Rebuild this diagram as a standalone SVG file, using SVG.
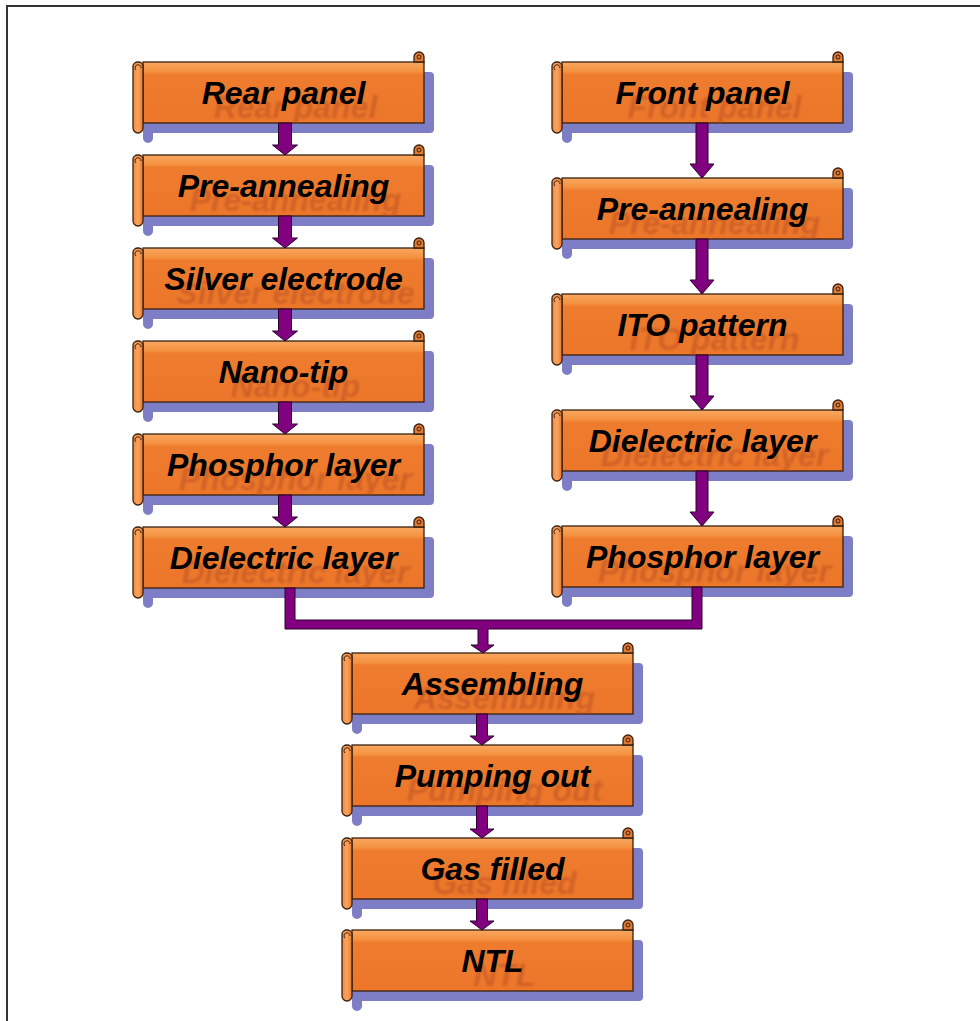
<svg xmlns="http://www.w3.org/2000/svg" xmlns:xlink="http://www.w3.org/1999/xlink" width="980" height="1021" viewBox="0 0 980 1021">
<defs>
<style>
.lbl{font-family:"Liberation Sans",Arial,sans-serif;font-weight:bold;font-style:italic;font-size:32px;text-anchor:middle;fill:#000}
.ghost{font-family:"Liberation Sans",Arial,sans-serif;font-weight:bold;font-style:italic;font-size:32px;text-anchor:middle;fill:#B04A22;opacity:0.45}
.conn{fill:#800080;stroke:#2a002a;stroke-width:1}
.shadow{fill:#7E7EC6}
.edge{stroke:#3a200e;stroke-width:1.3}
</style>
<linearGradient id="bodyGrad" x1="0" y1="0" x2="0" y2="1">
<stop offset="0" stop-color="#F9A862"/>
<stop offset="0.16" stop-color="#F4913F"/>
<stop offset="0.2" stop-color="#EE7C2E"/>
<stop offset="1" stop-color="#EC762A"/>
</linearGradient>
<linearGradient id="rollGrad" x1="0" y1="0" x2="1" y2="0">
<stop offset="0" stop-color="#F28A3C"/>
<stop offset="0.5" stop-color="#F8A460"/>
<stop offset="1" stop-color="#E9782E"/>
</linearGradient>
<clipPath id="bodyClip" clipPathUnits="userSpaceOnUse"><rect x="0" y="0" width="281" height="61"/></clipPath>
<filter id="soft" x="-5%" y="-20%" width="110%" height="140%"><feGaussianBlur stdDeviation="0.8"/></filter>
<g id="scroll">
<path class="shadow" d="M2,10 H287 a4,4 0 0 1 4,4 V67 a4,4 0 0 1 -4,4 H10 V76 a5,5 0 0 1 -10,0 V12 Z"/>
<rect x="0" y="0" width="281" height="61" fill="url(#bodyGrad)" class="edge"/>
<path d="M271,0 V-5 a5,5 0 0 1 10,0 V0 Z" fill="#E27A34" class="edge"/>
<circle cx="276" cy="-5" r="2" fill="none" stroke="#3a200e" stroke-width="1"/>
<path d="M-10,4 a5,4 0 0 1 10,0 V66 a5,5 0 0 1 -10,0 Z" fill="url(#rollGrad)" class="edge"/>
<path d="M-7,8 a3,3 0 1 1 5,-2" fill="none" stroke="#3a200e" stroke-width="1"/>
</g>
</defs>
<rect x="0" y="0" width="980" height="1021" fill="#fff"/>
<path d="M7,1021 V6 H980" fill="none" stroke="#333" stroke-width="2"/>

<g id="nodes">
<g id="rear-panel" transform="translate(143,62)"><use xlink:href="#scroll"/><text class="ghost" x="152.5" y="55.5" clip-path="url(#bodyClip)" filter="url(#soft)">Rear panel</text><text class="lbl" x="140.5" y="41.5">Rear panel</text></g>
<g id="rear-preannealing" transform="translate(143,155)"><use xlink:href="#scroll"/><text class="ghost" x="152.5" y="55.5" clip-path="url(#bodyClip)" filter="url(#soft)">Pre-annealing</text><text class="lbl" x="140.5" y="41.5">Pre-annealing</text></g>
<g id="silver-electrode" transform="translate(143,248)"><use xlink:href="#scroll"/><text class="ghost" x="152.5" y="55.5" clip-path="url(#bodyClip)" filter="url(#soft)">Silver electrode</text><text class="lbl" x="140.5" y="41.5">Silver electrode</text></g>
<g id="nano-tip" transform="translate(143,341)"><use xlink:href="#scroll"/><text class="ghost" x="152.5" y="55.5" clip-path="url(#bodyClip)" filter="url(#soft)">Nano-tip</text><text class="lbl" x="140.5" y="41.5">Nano-tip</text></g>
<g id="rear-phosphor" transform="translate(143,434)"><use xlink:href="#scroll"/><text class="ghost" x="152.5" y="55.5" clip-path="url(#bodyClip)" filter="url(#soft)">Phosphor layer</text><text class="lbl" x="140.5" y="41.5">Phosphor layer</text></g>
<g id="rear-dielectric" transform="translate(143,527)"><use xlink:href="#scroll"/><text class="ghost" x="152.5" y="55.5" clip-path="url(#bodyClip)" filter="url(#soft)">Dielectric layer</text><text class="lbl" x="140.5" y="41.5">Dielectric layer</text></g>

<g id="front-panel" transform="translate(562,62)"><use xlink:href="#scroll"/><text class="ghost" x="152.5" y="55.5" clip-path="url(#bodyClip)" filter="url(#soft)">Front panel</text><text class="lbl" x="140.5" y="41.5">Front panel</text></g>
<g id="front-preannealing" transform="translate(562,178)"><use xlink:href="#scroll"/><text class="ghost" x="152.5" y="55.5" clip-path="url(#bodyClip)" filter="url(#soft)">Pre-annealing</text><text class="lbl" x="140.5" y="41.5">Pre-annealing</text></g>
<g id="ito-pattern" transform="translate(562,294)"><use xlink:href="#scroll"/><text class="ghost" x="152.5" y="55.5" clip-path="url(#bodyClip)" filter="url(#soft)">ITO pattern</text><text class="lbl" x="140.5" y="41.5">ITO pattern</text></g>
<g id="front-dielectric" transform="translate(562,410)"><use xlink:href="#scroll"/><text class="ghost" x="152.5" y="55.5" clip-path="url(#bodyClip)" filter="url(#soft)">Dielectric layer</text><text class="lbl" x="140.5" y="41.5">Dielectric layer</text></g>
<g id="front-phosphor" transform="translate(562,526)"><use xlink:href="#scroll"/><text class="ghost" x="152.5" y="55.5" clip-path="url(#bodyClip)" filter="url(#soft)">Phosphor layer</text><text class="lbl" x="140.5" y="41.5">Phosphor layer</text></g>

<g id="assembling" transform="translate(352,653)"><use xlink:href="#scroll"/><text class="ghost" x="152.5" y="55.5" clip-path="url(#bodyClip)" filter="url(#soft)">Assembling</text><text class="lbl" x="140.5" y="41.5">Assembling</text></g>
<g id="pumping-out" transform="translate(352,745)"><use xlink:href="#scroll"/><text class="ghost" x="152.5" y="55.5" clip-path="url(#bodyClip)" filter="url(#soft)">Pumping out</text><text class="lbl" x="140.5" y="41.5">Pumping out</text></g>
<g id="gas-filled" transform="translate(352,838)"><use xlink:href="#scroll"/><text class="ghost" x="152.5" y="55.5" clip-path="url(#bodyClip)" filter="url(#soft)">Gas filled</text><text class="lbl" x="140.5" y="41.5">Gas filled</text></g>
<g id="ntl" transform="translate(352,930)"><use xlink:href="#scroll"/><text class="ghost" x="152.5" y="55.5" clip-path="url(#bodyClip)" filter="url(#soft)">NTL</text><text class="lbl" x="140.5" y="41.5">NTL</text></g>
</g>

<g id="connectors">
<polygon class="conn" points="278.5,123 291.5,123 291.5,145 297.5,145 285,155 272.5,145 278.5,145"/>
<polygon class="conn" points="278.5,216 291.5,216 291.5,238 297.5,238 285,248 272.5,238 278.5,238"/>
<polygon class="conn" points="278.5,309 291.5,309 291.5,331 297.5,331 285,341 272.5,331 278.5,331"/>
<polygon class="conn" points="278.5,402 291.5,402 291.5,424 297.5,424 285,434 272.5,424 278.5,424"/>
<polygon class="conn" points="278.5,495 291.5,495 291.5,517 297.5,517 285,527 272.5,517 278.5,517"/>

<polygon class="conn" points="696,123 708,123 708,164 714,164 702,178 690,164 696,164"/>
<polygon class="conn" points="696,239 708,239 708,280 714,280 702,294 690,280 696,280"/>
<polygon class="conn" points="696,355 708,355 708,396 714,396 702,410 690,396 696,396"/>
<polygon class="conn" points="696,471 708,471 708,512 714,512 702,526 690,512 696,512"/>

<path class="conn" d="M285,588 H295 V620 H692 V587 H702 V629 H488 V645 H494 L483,653 L471,645 H478 V629 H285 Z"/>

<polygon class="conn" points="476.5,714 487.5,714 487.5,736 494,736 482,745 470,736 476.5,736"/>
<polygon class="conn" points="476.5,806 487.5,806 487.5,829 494,829 482,838 470,829 476.5,829"/>
<polygon class="conn" points="476.5,899 487.5,899 487.5,921 494,921 482,930 470,921 476.5,921"/>
</g>
</svg>
